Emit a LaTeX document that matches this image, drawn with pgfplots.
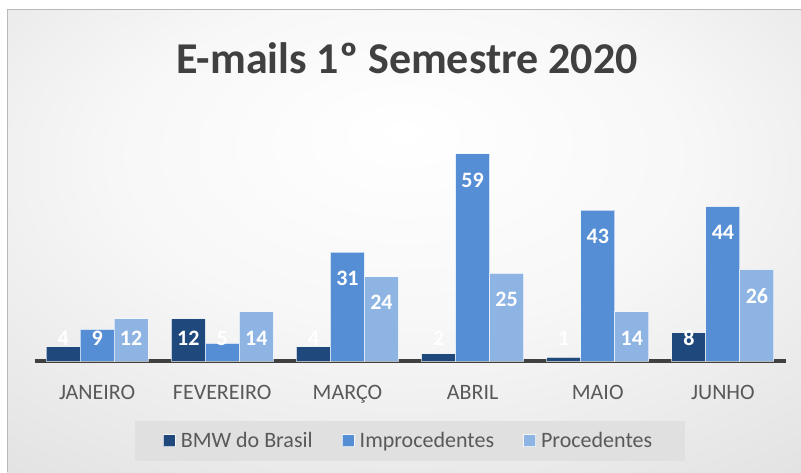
\documentclass[border=0pt]{standalone}
\usepackage{pgfplots}
\pgfplotsset{compat=1.18}
\usepackage{fontspec}
\setmainfont{Carlito}
\definecolor{cDark}{HTML}{1F497D}
\definecolor{cMid}{HTML}{558ED5}
\definecolor{cLight}{HTML}{8EB4E3}
\definecolor{cTitle}{HTML}{404040}
\definecolor{cText}{HTML}{595959}
\pgfdeclareradialshading{bgshade}{\pgfpoint{0bp}{12bp}}{color(0bp)=(white); color(18bp)=(white!97!black); color(74bp)=(white!76!black)}
\pgfplotsset{
  mylegend/.style={legend image code/.code={\draw[##1, draw=white, draw opacity=0.7, line width=1pt] (0pt,-6pt) rectangle (12pt,6pt);}}
}
\begin{document}
\begin{tikzpicture}
\fill[white] (0,0) rectangle (801pt,472pt);
\path[shading=bgshade] (7pt,0pt) rectangle (801pt,462pt);
\draw[black!28, line width=1pt] (7pt,0pt) -- (7pt,462pt) -- (801pt,462pt);
\node[anchor=base, text=cTitle, font=\bfseries\fontsize{44}{44}\selectfont] at (407pt,398pt) {E-mails 1º Semestre 2020};
\begin{axis}[
  at={(34.5pt,111pt)}, anchor=south west,
  scale only axis, width=751pt, height=217.6pt,
  ybar=0pt, bar width=34pt,
  xmin=-0.5, xmax=5.5, ymin=0, ymax=62,
  axis x line=bottom, axis y line=none,
  x axis line style={-, line width=4pt, draw=black!75},
  xtick=data,
  xticklabels={JANEIRO, FEVEREIRO, MARÇO, ABRIL, MAIO, JUNHO},
  major tick length=0pt,
  xticklabel style={anchor=base, yshift=-38pt, text=cText, font=\fontsize{22}{22}\selectfont},
  ytick=\empty,
  clip=false,
  /pgf/number format/assume math mode=true,
  visualization depends on=y \as \rawy,
  nodes near coords,
  nodes near coords style={anchor=center, text=white, font=\bfseries\fontsize{22}{22}\selectfont, yshift={max(-26,23-3.51*\rawy)}},
  legend columns=3,
  legend style={at={(0.5,-0.3676)}, anchor=center, fill=black!12, draw=none,
    inner xsep=28pt, inner ysep=10pt,
    font=\fontsize{22}{22}\selectfont, text=cText,
    nodes={inner xsep=5pt, inner ysep=2pt},
    /tikz/every even column/.append style={column sep=24pt}},
]
\addplot[fill=cDark, draw=white, draw opacity=0.6, line width=1pt, mylegend] coordinates {(0,4) (1,12) (2,4) (3,2) (4,1) (5,8)};
\addplot[fill=cMid, draw=white, draw opacity=0.6, line width=1pt, mylegend] coordinates {(0,9) (1,5) (2,31) (3,59) (4,43) (5,44)};
\addplot[fill=cLight, draw=white, draw opacity=0.6, line width=1pt, mylegend] coordinates {(0,12) (1,14) (2,24) (3,25) (4,14) (5,26)};
\legend{BMW do Brasil, Improcedentes, Procedentes}
\end{axis}
\pgfresetboundingbox
\path[use as bounding box] (0,0) rectangle (801pt,472pt);
\end{tikzpicture}
\end{document}
